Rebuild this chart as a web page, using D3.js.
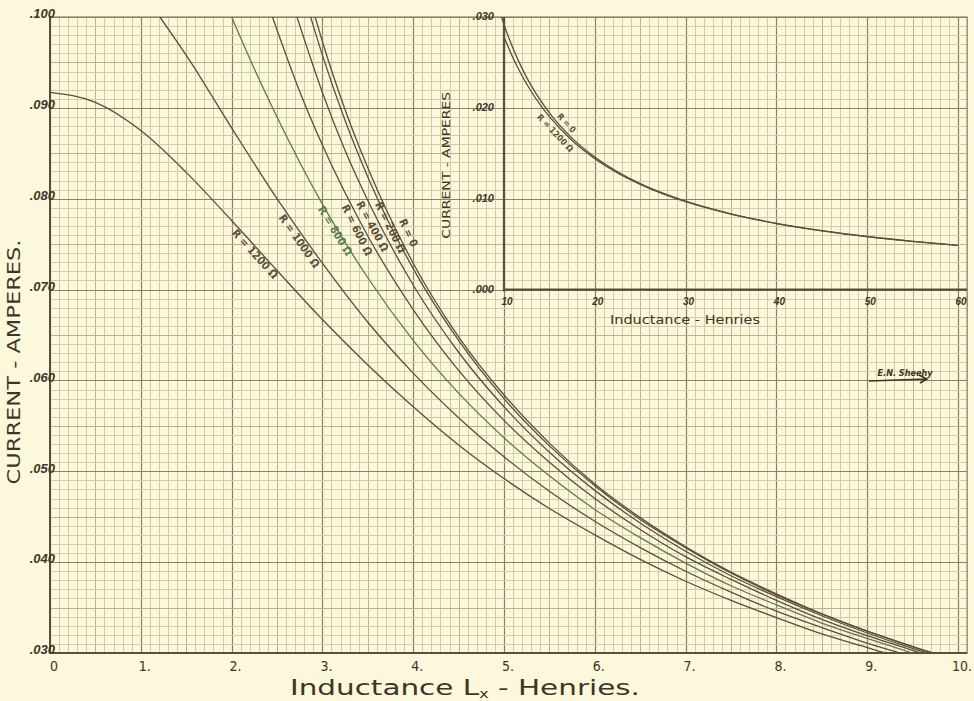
<!DOCTYPE html>
<html>
<head>
<meta charset="utf-8">
<script src="https://cdn.jsdelivr.net/npm/d3@7"></script>
<style>
body { margin: 0; background: #fbf8dc; }
svg { display: block; }
</style>
</head>
<body>
<svg id="chart" width="974" height="701"></svg>
<script>
// values: current (A) against inductance (H)
var L1200 = [0, 0.5, 1, 1.5, 2, 2.5, 3, 3.5, 4, 4.5, 5, 5.5, 6, 6.5, 7, 7.5, 8, 8.5, 9, 9.5, 10];
var I1200 = [.0917, .0906, .0875, .0829, .0776, .0721, .0667, .0617, .0571, .0529, .0492, .0459, .0430, .0403, .0379, .0358, .0339, .0321, .0306, .0291, .0278];
var L1000 = [1.21, 1.5, 2, 2.5, 3, 3.5, 4, 4.5, 5, 5.5, 6, 6.5, 7, 7.5, 8, 8.5, 9, 9.5, 10];
var I1000 = [.1000, .0958, .0878, .0800, .0729, .0664, .0608, .0559, .0516, .0478, .0445, .0416, .0390, .0367, .0346, .0328, .0311, .0296, .0282];
var L800 = [2.0, 2.25, 2.5, 3, 3.5, 4, 4.5, 5, 5.5, 6, 6.5, 7, 7.5, 8, 8.5, 9, 9.5, 10];
var I800 = [.1000, .0943, .0890, .0794, .0713, .0644, .0586, .0537, .0495, .0458, .0427, .0399, .0374, .0353, .0333, .0316, .0300, .0285];
var L600 = [2.45, 2.75, 3, 3.5, 4, 4.5, 5, 5.5, 6, 6.5, 7, 7.5, 8, 8.5, 9, 9.5, 10];
var I600 = [.1000, .0918, .0859, .0759, .0678, .0611, .0556, .0510, .0470, .0436, .0406, .0381, .0358, .0337, .0319, .0303, .0288];
var L400 = [2.72, 3, 3.25, 3.5, 4, 4.5, 5, 5.5, 6, 6.5, 7, 7.5, 8, 8.5, 9, 9.5, 10];
var I400 = [.1000, .0917, .0853, .0798, .0705, .0631, .0571, .0521, .0479, .0443, .0412, .0385, .0362, .0341, .0322, .0305, .0290];
var L200 = [2.87, 3, 3.25, 3.5, 4, 4.5, 5, 5.5, 6, 6.5, 7, 7.5, 8, 8.5, 9, 9.5, 10];
var I200 = [.1000, .0958, .0886, .0824, .0723, .0644, .0580, .0528, .0484, .0447, .0416, .0388, .0364, .0343, .0324, .0307, .0291];
var L0 = [2.92, 3, 3.25, 3.5, 4, 4.5, 5, 5.5, 6, 6.5, 7, 7.5, 8, 8.5, 9, 9.5, 10];
var I0 = [.1000, .0973, .0898, .0834, .0729, .0648, .0584, .0531, .0486, .0449, .0417, .0389, .0365, .0343, .0324, .0307, .0292];

var mainNames = ["R = 1200 Ω", "R = 1000 Ω", "R = 800 Ω", "R = 600 Ω", "R = 400 Ω", "R = 200 Ω", "R = 0"];

// inset, 10 to 60 henries
var insetL0 = [9.73, 10, 11, 12, 13, 14, 15, 17.5, 20, 22.5, 25, 27.5, 30, 35, 40, 45, 50, 55, 60];
var insetI0 = [.0300, .02918, .02653, .02432, .02244, .02084, .01945, .01667, .01459, .01297, .01167, .01061, .00973, .00834, .00729, .00648, .00584, .00531, .00486];
var insetL1200 = [10, 11, 12, 13, 14, 15, 17.5, 20, 22.5, 25, 27.5, 30, 35, 40, 45, 50, 55, 60];
var insetI1200 = [.02780, .02548, .02350, .02180, .02032, .01903, .01640, .01441, .01284, .01158, .01054, .00967, .00830, .00727, .00647, .00582, .00530, .00486];
var insetNames = ["R = 0", "R = 1200 Ω"];

var mainXTicks = ["0", "1.", "2.", "3.", "4.", "5.", "6.", "7.", "8.", "9.", "10."];
var mainYTicks = [".100", ".090", ".080", ".070", ".060", ".050", ".040", ".030"];
var insetXTicks = ["10", "20", "30", "40", "50", "60"];
var insetYTicks = [".030", ".020", ".010", ".000"];

var svg = d3.select('#chart');
var paper = "#fbf8dc", ink = "#5c4e3b", text = "#3f3526";
var gridMinor = "#d4cbab", gridMid = "#bcb08e", gridMajor = "#8f8164";
var hand = "'Liberation Sans Narrow', 'DejaVu Sans Condensed', 'Liberation Sans', sans-serif";

svg.append('rect').attr('width', 974).attr('height', 701).attr('fill', paper);

var x = d3.scaleLinear().domain([0, 10]).range([50, 958]);
var y = d3.scaleLinear().domain([0.030, 0.100]).range([653, 17]);
var xMax = 10.1;

// graph paper
var grid = svg.append('g');
d3.range(0, 102).forEach(function(i) {
    var px = Math.round(x(i / 10)) + 0.5;
    grid.append('line').attr('x1', px).attr('x2', px).attr('y1', y(0.1)).attr('y2', y(0.03))
        .attr('stroke', i % 10 == 0 ? gridMajor : (i % 5 == 0 ? gridMid : gridMinor))
        .attr('stroke-width', i % 10 == 0 ? 1.2 : 1);
});
d3.range(0, 71).forEach(function(j) {
    var py = Math.round(y(0.030 + j / 1000)) + 0.5;
    grid.append('line').attr('x1', x(0)).attr('x2', x(xMax)).attr('y1', py).attr('y2', py)
        .attr('stroke', j % 10 == 0 ? gridMajor : (j % 5 == 0 ? gridMid : gridMinor))
        .attr('stroke-width', j % 10 == 0 ? 1.2 : 1);
});
// frame
svg.append('rect').attr('x', x(0)).attr('y', y(0.1)).attr('width', x(xMax) - x(0)).attr('height', y(0.03) - y(0.1))
    .attr('fill', 'none').attr('stroke', gridMajor).attr('stroke-width', 1.2);
svg.append('line').attr('x1', x(0)).attr('x2', x(0)).attr('y1', y(0.1)).attr('y2', y(0.03)).attr('stroke', ink).attr('stroke-width', 2);
svg.append('line').attr('x1', x(0)).attr('x2', x(xMax)).attr('y1', y(0.03)).attr('y2', y(0.03)).attr('stroke', ink).attr('stroke-width', 2);

svg.append('clipPath').attr('id', 'plotclip').append('rect')
    .attr('x', x(0)).attr('y', y(0.1)).attr('width', x(xMax) - x(0)).attr('height', y(0.03) - y(0.1));

var mainSeries = [[L1200, I1200], [L1000, I1000], [L800, I800], [L600, I600], [L400, I400], [L200, I200], [L0, I0]];
var lineColors = [ink, ink, "#5f7a4c", ink, ink, ink, ink];

var line = function(sx, sy) {
    return d3.line().x(function(d) { return sx(d[0]); }).y(function(d) { return sy(d[1]); }).curve(d3.curveMonotoneX);
};
var zipped = function(s) { return s[0].map(function(l, i) { return [l, s[1][i]]; }); };

var curves = svg.append('g').attr('clip-path', 'url(#plotclip)');
mainSeries.forEach(function(s, i) {
    curves.append('path').attr('d', line(x, y)(zipped(s)))
        .attr('fill', 'none').attr('stroke', lineColors[i]).attr('stroke-width', 1.3);
});

// label written along a curve at inductance lpos, shifted off the line by off px
function curveLabel(g, s, sx, sy, lpos, off, txt, color, size) {
    var ls = s[0], vs = s[1];
    var k = d3.bisectRight(ls, lpos) - 1;
    k = Math.max(0, Math.min(ls.length - 2, k));
    var t = (lpos - ls[k]) / (ls[k + 1] - ls[k]);
    var v = vs[k] + t * (vs[k + 1] - vs[k]);
    var dx = sx(ls[k + 1]) - sx(ls[k]), dy = sy(vs[k + 1]) - sy(vs[k]);
    var ang = Math.atan2(dy, dx);
    var px = sx(lpos) - Math.sin(ang) * off, py = sy(v) + Math.cos(ang) * off;
    g.append('text').attr('transform', 'translate(' + px + ',' + py + ') rotate(' + (ang * 180 / Math.PI) + ')')
        .attr('text-anchor', 'middle').attr('dy', '0.35em')
        .attr('font-family', hand).attr('font-weight', 'bold').attr('font-size', size)
        .attr('fill', color).text(txt);
}
var labelPos = [2.3, 2.8, 3.17, 3.45, 3.63, 3.77, 3.86];
var labelOff = [5, 6, 3, 7, 8, 2, -9];
var labels = svg.append('g');
mainSeries.forEach(function(s, i) {
    curveLabel(labels, s, x, y, labelPos[i], labelOff[i], mainNames[i], lineColors[i], 11);
});

// main tick labels
svg.append('g').selectAll('text').data(mainYTicks).enter().append('text')
    .attr('x', x(0) + 5).attr('y', function(d) { return y(+d); }).attr('dy', '0.1em')
    .attr('text-anchor', 'end').attr('font-family', 'Liberation Sans, sans-serif')
    .attr('font-style', 'italic').attr('font-weight', 'bold').attr('font-size', 13).attr('fill', text)
    .text(function(d) { return d; });
svg.append('g').selectAll('text').data(mainXTicks).enter().append('text')
    .attr('x', function(d, i) { return x(i) + 4; }).attr('y', 671)
    .attr('text-anchor', 'middle').attr('font-family', hand).attr('font-size', 14).attr('fill', text)
    .text(function(d) { return d; });

// axis titles
var xt = svg.append('text').attr('x', 465).attr('y', 695).attr('text-anchor', 'middle')
    .attr('font-family', hand).attr('font-size', 22).attr('fill', text)
    .attr('textLength', 350).attr('lengthAdjust', 'spacingAndGlyphs');
xt.append('tspan').text('Inductance L');
xt.append('tspan').attr('font-size', 12).attr('dy', 3).text('x');
xt.append('tspan').attr('dy', -3).text(' - Henries.');
svg.append('text').attr('transform', 'translate(20,362) rotate(-90)').attr('text-anchor', 'middle')
    .attr('font-family', hand).attr('font-size', 18).attr('fill', text)
    .attr('textLength', 245).attr('lengthAdjust', 'spacingAndGlyphs').text('CURRENT - AMPERES.');

// inset chart on the same paper: 10-60 H over the 5-10 H squares
var ix = d3.scaleLinear().domain([10, 60]).range([x(5), x(10)]);
var iy = d3.scaleLinear().domain([0, 0.030]).range([y(0.070), y(0.100)]);
svg.append('line').attr('x1', ix(10)).attr('x2', ix(10)).attr('y1', iy(0.030)).attr('y2', iy(0) + 2)
    .attr('stroke', ink).attr('stroke-width', 2.2);
svg.append('line').attr('x1', ix(10)).attr('x2', x(xMax)).attr('y1', iy(0)).attr('y2', iy(0))
    .attr('stroke', ink).attr('stroke-width', 2.2);

var insetSeries = [[insetL0, insetI0], [insetL1200, insetI1200]];
insetSeries.forEach(function(s) {
    curves.append('path').attr('d', line(ix, iy)(zipped(s)))
        .attr('fill', 'none').attr('stroke', ink).attr('stroke-width', 1.3);
});
curveLabel(labels, insetSeries[0], ix, iy, 16.4, -6, insetNames[0], ink, 8.5);
curveLabel(labels, insetSeries[1], ix, iy, 16.2, 7, insetNames[1], ink, 8.5);

svg.append('g').selectAll('text').data(insetYTicks).enter().append('text')
    .attr('x', ix(10) - 10).attr('y', function(d) { return iy(+d); }).attr('dy', '0.3em')
    .attr('text-anchor', 'end').attr('font-family', 'Liberation Sans, sans-serif')
    .attr('font-style', 'italic').attr('font-weight', 'bold').attr('font-size', 11).attr('fill', text)
    .text(function(d) { return d; });
svg.append('g').selectAll('text').data(insetXTicks).enter().append('text')
    .attr('x', function(d) { return ix(+d) + 3; }).attr('y', iy(0) + 15)
    .attr('text-anchor', 'middle').attr('font-family', 'Liberation Sans, sans-serif')
    .attr('font-style', 'italic').attr('font-weight', 'bold').attr('font-size', 10).attr('fill', text)
    .text(function(d) { return d; });
svg.append('text').attr('x', 685).attr('y', iy(0) + 34).attr('text-anchor', 'middle')
    .attr('font-family', hand).attr('font-size', 12).attr('fill', text)
    .attr('textLength', 150).attr('lengthAdjust', 'spacingAndGlyphs').text('Inductance - Henries');
svg.append('text').attr('transform', 'translate(450,' + ((iy(0) + iy(0.03)) / 2 + 12) + ') rotate(-90)')
    .attr('text-anchor', 'middle').attr('font-family', hand).attr('font-size', 11).attr('fill', text)
    .attr('textLength', 147).attr('lengthAdjust', 'spacingAndGlyphs').text('CURRENT - AMPERES');

// draftsman's initials
svg.append('text').attr('x', 905).attr('y', 376).attr('text-anchor', 'middle')
    .attr('font-family', hand).attr('font-weight', 'bold').attr('font-style', 'italic').attr('font-size', 9).attr('fill', text)
    .text('E.N. Sheehy');
svg.append('path').attr('d', 'M869,381 L926,379 M919,375 L927,379 L920,383')
    .attr('fill', 'none').attr('stroke', text).attr('stroke-width', 1.6);
</script>
</body>
</html>
